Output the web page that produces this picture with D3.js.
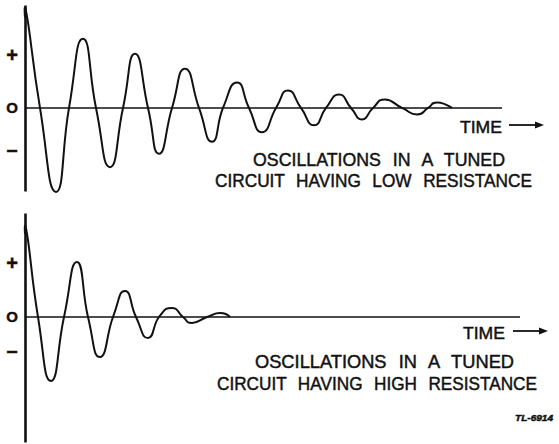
<!DOCTYPE html>
<html>
<head>
<meta charset="utf-8">
<script src="https://cdn.jsdelivr.net/npm/d3@7"></script>
<style>
  html, body { margin: 0; padding: 0; background: #fff; }
  svg { display: block; }
  .lbl { font-family: "Liberation Sans", Arial, sans-serif; fill: #111; stroke: #111; stroke-width: 0.45; }
</style>
</head>
<body>
<svg id="chart" width="559" height="444"></svg>
<script>
// Damped oscillation traces: [time, amplitude] at each crest, trough and zero crossing.
const lowResistance = [
  [0, 91], [0.5, 89], [3, 0], [6.2, -84.5], [8.8, 0], [11.6, 69.5], [14.2, 0],
  [17, -59.5], [19.6, 0], [22, 54.5], [24.6, 0], [26.8, -46], [29.4, 0],
  [32, 39.5], [34.8, 0], [37.4, -34], [39.6, 0], [42.4, 25.5], [44.8, 0],
  [47.4, -24.5], [50.2, 0], [52.6, 17.5], [55.2, 0], [57.8, -17.5], [60.2, 0],
  [62.8, 13.5], [65.2, 0], [67.4, -11.5], [69.6, 0], [72, 8.5], [75.4, 0],
  [78.4, -6.5], [80.6, 0], [82.4, 5.5], [85.4, 0]
];
const highResistance = [
  [0, 83], [0.5, 80], [2.6, 0], [5.2, -64], [7.8, 0], [10.4, 55], [12.6, 0],
  [15, -40], [17.6, 0], [20, 26], [22.2, 0], [24.6, -21], [26.8, 0],
  [29.4, 9], [31.6, 0], [33.4, -6], [36.4, 0], [39, 4], [41, 0]
];

// Sign labels on the amplitude axis
const tickLabels = ["+", "O", "\u2013"];
const lowTickValues = [53.5, 0, -41.5];
const highTickValues = [54, 0, -33];

const timeLabel = "TIME";
const lowCaption = ["OSCILLATIONS IN A TUNED", "CIRCUIT HAVING LOW RESISTANCE"];
const highCaption = ["OSCILLATIONS IN A TUNED", "CIRCUIT HAVING HIGH RESISTANCE"];
const drawingNumber = "TL-6914";

const svg = d3.select("#chart");

// Shared time axis for both panels
const x = d3.scaleLinear().domain([0, 100]).range([25, 525]);

const panels = [
  {
    data: lowResistance, ticks: lowTickValues, caption: lowCaption,
    yDomain: [-83.5, 103.5], yRange: [191, 5], timeEnd: 95.4,
    timeX: 460, timeY: 133, arrowX: [509, 544], arrowY: 125,
    capX: [[253, 505], [215, 532]], capY: [166, 187]
  },
  {
    data: highResistance, ticks: highTickValues, caption: highCaption,
    yDomain: [-125, 104], yRange: [442, 213], timeEnd: 99,
    timeX: 463, timeY: 339, arrowX: [513, 548], arrowY: 331,
    capX: [[255, 514], [217, 537]], capY: [368, 390]
  }
];

// Oversized cardinal tangents give the broad crests and steep flanks of the traces
const line = d3.line().curve(d3.curveCardinal.tension(-0.7));

panels.forEach(p => {
  const y = d3.scaleLinear().domain(p.yDomain).range(p.yRange);
  const g = svg.append("g");

  // Amplitude axis: the domain path is the vertical rule
  const axis = d3.axisLeft(y)
    .tickValues(p.ticks)
    .tickSizeInner(0)
    .tickSizeOuter(0)
    .tickPadding(8)
    .tickFormat((d, i) => tickLabels[i]);
  const ag = g.append("g").attr("transform", `translate(${x(0)},0)`).call(axis);
  ag.select(".domain").attr("stroke", "#111").attr("stroke-width", 2.6);
  ag.selectAll(".tick text")
    .attr("class", "lbl")
    .attr("x", -13)
    .attr("text-anchor", "middle")
    .attr("font-size", (d, i) => i === 1 ? 15 : 20)
    .attr("font-weight", "bold")
    .attr("fill", "#111");

  // Zero line (time axis)
  g.append("line")
    .attr("x1", x(0)).attr("x2", x(p.timeEnd))
    .attr("y1", y(0)).attr("y2", y(0))
    .attr("stroke", "#111").attr("stroke-width", 1.6);

  // Oscillation trace
  g.append("path")
    .datum(p.data)
    .attr("d", line.x(d => x(d[0])).y(d => y(d[1])))
    .attr("fill", "none")
    .attr("stroke", "#111")
    .attr("stroke-width", 2)
    .attr("stroke-linejoin", "round");

  // TIME label with arrow
  g.append("text")
    .attr("class", "lbl")
    .attr("x", p.timeX).attr("y", p.timeY)
    .attr("font-size", 17)
    .attr("textLength", 42).attr("lengthAdjust", "spacingAndGlyphs")
    .text(timeLabel);
  g.append("line")
    .attr("x1", p.arrowX[0]).attr("x2", p.arrowX[1] - 6)
    .attr("y1", p.arrowY).attr("y2", p.arrowY)
    .attr("stroke", "#111").attr("stroke-width", 1.8);
  g.append("path")
    .attr("d", `M${p.arrowX[1]},${p.arrowY} L${p.arrowX[1] - 9},${p.arrowY - 3.5} L${p.arrowX[1] - 9},${p.arrowY + 3.5} Z`)
    .attr("fill", "#111");

  // Caption
  p.caption.forEach((t, i) => {
    g.append("text")
      .attr("class", "lbl")
      .attr("x", p.capX[i][0]).attr("y", p.capY[i])
      .attr("font-size", 18)
      .attr("word-spacing", 7)
      .attr("textLength", p.capX[i][1] - p.capX[i][0])
      .attr("lengthAdjust", "spacingAndGlyphs")
      .text(t);
  });
});

// Drawing reference number
svg.append("text")
  .attr("class", "lbl")
  .attr("x", 515).attr("y", 421)
  .attr("font-size", 9)
  .attr("font-style", "italic")
  .attr("font-weight", "bold")
  .attr("textLength", 38).attr("lengthAdjust", "spacingAndGlyphs")
  .text(drawingNumber);
</script>
</body>
</html>
